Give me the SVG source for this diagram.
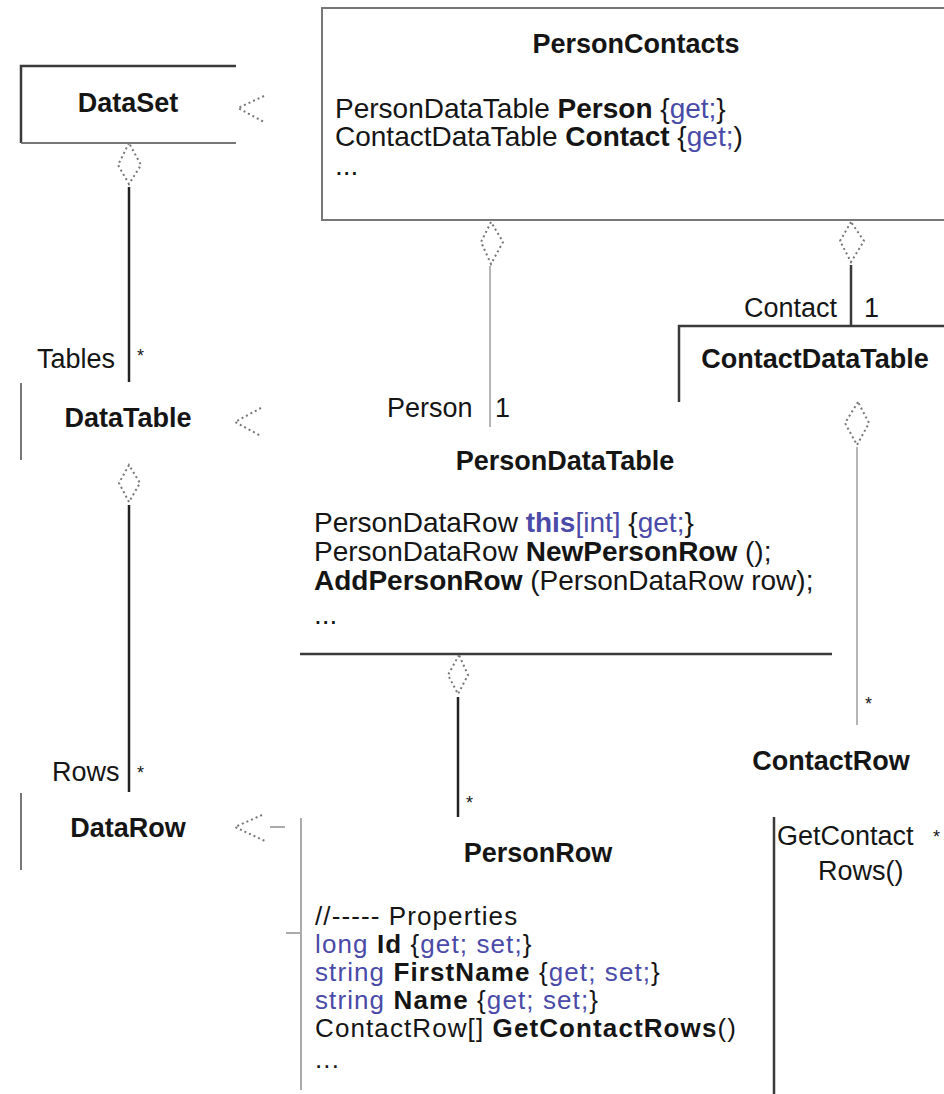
<svg xmlns="http://www.w3.org/2000/svg" width="944" height="1094" viewBox="0 0 944 1094">
<defs>
<style>
text{font-family:"Liberation Sans",Arial,sans-serif;fill:#151515}
.t{font-size:27px;font-weight:bold;text-anchor:middle}
.c{font-size:28px}
.r{font-size:26px;letter-spacing:1.1px}
.l{font-size:27px}
.b{font-weight:bold}
.k{fill:#4a4aa8}
.m{font-size:18px}
.dark{stroke:#3a3a3a;stroke-width:2.5;fill:none}
.mid{stroke:#777;stroke-width:2;fill:none}
.light{stroke:#aaa;stroke-width:2;fill:none}
.dot{stroke:#777;stroke-width:2;stroke-dasharray:2 3;fill:none}
.solid{stroke:#222;stroke-width:2.5;fill:none}
.thin{stroke:#b5b5b5;stroke-width:2;fill:none}
</style>
</defs>
<rect width="944" height="1094" fill="#fff"/>

<g id="DataSet">
<path class="dark" d="M236,66 H21 V143"/>
<path class="mid" d="M21,143 H236"/>
<text class="t" x="128" y="112">DataSet</text>
</g>

<g id="PersonContacts">
<path class="mid" d="M944,8 H322 V220 H944"/>
<text class="t" x="636" y="53">PersonContacts</text>
<text class="c"><tspan x="335" y="118">PersonDataTable <tspan class="b">Person</tspan> {<tspan class="k">get;</tspan>}</tspan><tspan x="335" y="146">ContactDataTable <tspan class="b">Contact</tspan> {<tspan class="k">get;</tspan>)</tspan><tspan x="335" y="175">...</tspan></text>
</g>

<g id="DataTable">
<path class="mid" d="M21,383 V460"/>
<text class="t" x="128" y="427">DataTable</text>
</g>

<g id="DataRow">
<path class="mid" d="M21,793 V870"/>
<text class="t" x="128" y="837">DataRow</text>
</g>

<g id="PersonDataTable">
<path class="dark" d="M300,654 H832"/>
<text class="t" x="565" y="470">PersonDataTable</text>
<text class="c"><tspan x="314" y="532">PersonDataRow <tspan class="b k">this</tspan><tspan class="k">[int]</tspan> {<tspan class="k">get;</tspan>}</tspan><tspan x="314" y="561">PersonDataRow <tspan class="b">NewPersonRow</tspan> ();</tspan><tspan x="314" y="590"><tspan class="b">AddPersonRow</tspan> (PersonDataRow row);</tspan><tspan x="314" y="624">...</tspan></text>
</g>

<g id="ContactDataTable">
<path class="dark" d="M944,326 H679 V402"/>
<text class="t" x="815" y="368">ContactDataTable</text>
</g>

<g id="ContactRow">
<text class="t" x="831" y="770">ContactRow</text>
</g>

<g id="PersonRow">
<path class="light" d="M301,818 V1090"/>
<path class="light" d="M286,933 H301"/>
<path class="dark" d="M774,817 V1094"/>
<text class="t" x="538" y="862">PersonRow</text>
<text class="r"><tspan x="315" y="925">//----- Properties</tspan><tspan x="315" y="953"><tspan class="k">long</tspan> <tspan class="b">Id</tspan> {<tspan class="k">get; set;</tspan>}</tspan><tspan x="315" y="981"><tspan class="k">string</tspan> <tspan class="b">FirstName</tspan> {<tspan class="k">get; set;</tspan>}</tspan><tspan x="315" y="1009"><tspan class="k">string</tspan> <tspan class="b">Name</tspan> {<tspan class="k">get; set;</tspan>}</tspan><tspan x="315" y="1037">ContactRow[] <tspan class="b">GetContactRows</tspan>()</tspan><tspan x="315" y="1068">...</tspan></text>
</g>

<g id="connectors">
<path class="dot" d="M264,96 L238,108 L264,122"/>
<path class="dot" d="M261,408 L235,422 L261,436"/>
<path class="dot" d="M262,815 L235,827 L267,842"/>
<path class="light" d="M270,827 H285"/>
<path class="dot" d="M129,143 L118,165 L129,184 L141,165 Z"/>
<path class="solid" d="M129,187 V382"/>
<text class="l" x="37" y="368">Tables</text>
<text class="m" x="137" y="362">*</text>
<path class="dot" d="M129,465 L119,483 L129,502 L140,483 Z"/>
<path class="solid" d="M129,505 V792"/>
<text class="l" x="52" y="781">Rows</text>
<text class="m" x="137" y="779">*</text>
<path class="dot" d="M491,222 L481,242 L491,264 L503,242 Z"/>
<path class="thin" d="M490,266 V427"/>
<text class="l" x="387" y="417">Person</text>
<text class="l" x="495" y="417">1</text>
<path class="dot" d="M851,222 L840,241 L851,262 L864,241 Z"/>
<path class="dark" d="M851,265 V326"/>
<text class="l" x="744" y="317">Contact</text>
<text class="l" x="864" y="317">1</text>
<path class="dot" d="M858,402 L845,423 L857,445 L869,423 Z"/>
<path class="thin" d="M857,447 V725"/>
<text class="m" x="865" y="710">*</text>
<path class="dot" d="M459,655 L448,675 L458,694 L468,675 Z"/>
<path class="solid" d="M458,697 V817"/>
<text class="m" x="466" y="809">*</text>
<text class="l"><tspan x="777" y="845">GetContact</tspan><tspan x="818" y="880">Rows()</tspan></text>
<text class="m" x="933" y="843">*</text>
</g>
</svg>
